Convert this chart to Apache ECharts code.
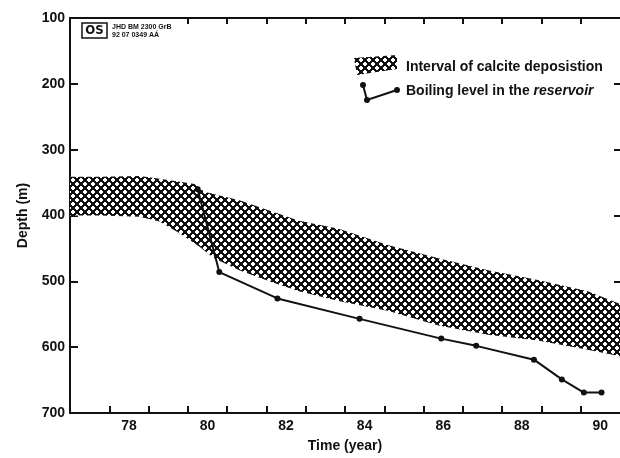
<!DOCTYPE html>
<html>
<head>
<meta charset="utf-8">
<script src="https://cdn.jsdelivr.net/npm/echarts@6/dist/echarts.min.js"></script>
<style>
html, body { margin: 0; padding: 0; background: #fff; }
#chart { width: 620px; height: 458px; }
</style>
</head>
<body>
<div id="chart"></div>
<script>
// boiling level in the reservoir (year, depth m)
var boilYear = [80.25, 80.80, 82.28, 84.37, 86.45, 87.34, 88.81, 89.52, 90.08, 90.53];
var boilDepth = [360, 486, 526, 557, 587, 598, 619, 649, 669, 669];

// interval of calcite deposition: upper and lower edge of the band
var calciteTopYear = [77.0, 77.76, 78.77, 79.28, 80.17, 80.42, 81.31, 82.83, 83.84, 85.11, 86.38, 87.64, 88.91, 90.18, 90.94, 91.2];
var calciteTopDepth = [341, 341, 340, 344, 352, 364, 377, 408, 420, 445, 465, 483, 498, 515, 533, 540];
var calciteBotYear = [77.0, 77.76, 78.77, 79.28, 79.79, 80.29, 80.67, 81.31, 82.07, 82.83, 83.84, 85.11, 86.38, 87.64, 88.91, 90.18, 90.94, 91.2];
var calciteBotDepth = [400, 400, 402, 409, 427, 447, 465, 483, 500, 515, 530, 545, 567, 581, 590, 604, 613, 617];

// axis ticks and labels
var xTickYears = [78, 79, 80, 81, 82, 83, 84, 85, 86, 87, 88, 89, 90];
var xTopTickYears = [80, 81, 82, 83, 84, 85, 86, 87, 88, 89, 90];
var xLabels = ['78', '80', '82', '84', '86', '88', '90'];
var yRightTicks = [200, 300, 400, 500, 600];

var ink = '#111';
var font = 'Liberation Sans';

// crisp cross-hatch tile, drawn pixel by pixel
function makeHatch() {
    var s = 8;
    var c = document.createElement('canvas');
    c.width = s;
    c.height = s;
    var ctx = c.getContext('2d');
    ctx.fillStyle = '#fff';
    ctx.fillRect(0, 0, s, s);
    ctx.fillStyle = ink;
    for (var x = 0; x < s; x++) {
        for (var y = 0; y < s; y++) {
            var a = ((x - y) % s + s) % s;
            var b = ((x + y + 1) % s + s) % s;
            if (a < 3 || b < 3) {
                ctx.fillRect(x, y, 1, 1);
            }
        }
    }
    return c;
}
var hatch = { image: makeHatch(), repeat: 'repeat' };

var boilData = boilYear.map(function(y, i) {
    return [y, boilDepth[i]];
});

var axisLine = { show: true, lineStyle: { color: ink, width: 2 } };
var labelStyle = { color: ink, fontFamily: font, fontWeight: 'bold', fontSize: 14 };

var chart = echarts.init(document.getElementById('chart'));

var option = {
    backgroundColor: '#fff',
    animation: false,
    grid: { left: 70, right: 0, top: 18, bottom: 42 },
    xAxis: [{
            type: 'value',
            min: 77,
            max: 91,
            position: 'bottom',
            axisLine: axisLine,
            axisTick: { show: true, inside: true, length: 7, customValues: xTickYears, lineStyle: { color: ink, width: 2 } },
            axisLabel: Object.assign({
                customValues: xLabels.map(function(l) { return +l + 0.5; }),
                formatter: function(v) { return String(Math.floor(v)); },
                margin: 6
            }, labelStyle),
            splitLine: { show: false },
            name: 'Time (year)',
            nameLocation: 'middle',
            nameGap: 26,
            nameTextStyle: labelStyle
        },
        {
            type: 'value',
            min: 77,
            max: 91,
            position: 'top',
            axisLine: axisLine,
            axisTick: { show: true, inside: true, length: 6, customValues: xTopTickYears, lineStyle: { color: ink, width: 2 } },
            axisLabel: { show: false },
            splitLine: { show: false }
        }
    ],
    yAxis: [{
            type: 'value',
            inverse: true,
            min: 100,
            max: 700,
            interval: 100,
            position: 'left',
            axisLine: axisLine,
            axisTick: { show: true, inside: true, length: 8, lineStyle: { color: ink, width: 2 } },
            axisLabel: Object.assign({ margin: 5 }, labelStyle),
            splitLine: { show: false },
            name: 'Depth (m)',
            nameLocation: 'middle',
            nameGap: 40,
            nameTextStyle: labelStyle
        },
        {
            type: 'value',
            inverse: true,
            min: 100,
            max: 700,
            position: 'right',
            axisLine: { show: false },
            axisTick: { show: true, inside: true, length: 6, customValues: yRightTicks, lineStyle: { color: ink, width: 2 } },
            axisLabel: { show: false },
            splitLine: { show: false }
        }
    ],
    series: [{
            name: 'Interval of calcite deposistion',
            type: 'custom',
            clip: true,
            data: [[calciteTopYear[0], calciteTopDepth[0]]],
            renderItem: function(params, api) {
                var pts = [];
                for (var i = 0; i < calciteTopYear.length; i++) {
                    pts.push(api.coord([calciteTopYear[i], calciteTopDepth[i]]));
                }
                for (var j = calciteBotYear.length - 1; j >= 0; j--) {
                    pts.push(api.coord([calciteBotYear[j], calciteBotDepth[j]]));
                }
                return {
                    type: 'polygon',
                    shape: { points: pts },
                    style: { fill: hatch }
                };
            }
        },
        {
            name: 'Boiling level in the reservoir',
            type: 'line',
            data: boilData,
            symbol: 'circle',
            symbolSize: 6,
            lineStyle: { color: ink, width: 2 },
            itemStyle: { color: ink },
            z: 3
        }
    ],
    graphic: [
        // logo block
        { type: 'rect', shape: { x: 82, y: 23, width: 25, height: 15 }, style: { fill: '#fff', stroke: ink, lineWidth: 1.5 } },
        { type: 'text', x: 94.5, y: 31, style: { text: 'OS', fill: ink, font: 'bold 13px "DejaVu Sans Condensed"', align: 'center', verticalAlign: 'middle' } },
        { type: 'text', x: 112, y: 27, style: { text: 'JHD BM 2300 GrB', fill: ink, font: 'bold 7px "Liberation Sans"', verticalAlign: 'middle' } },
        { type: 'text', x: 112, y: 35, style: { text: '92 07 0349 AÁ', fill: ink, font: 'bold 7px "Liberation Sans"', verticalAlign: 'middle' } },
        // legend
        { type: 'polygon', shape: { points: [[354, 58], [397, 55], [397, 69], [357, 75]] }, style: { fill: hatch } },
        { type: 'text', x: 406, y: 67, style: { text: 'Interval of calcite deposistion', fill: ink, font: 'bold 14px "Liberation Sans"', verticalAlign: 'middle' } },
        { type: 'polyline', shape: { points: [[363, 85], [367, 100], [397, 90]] }, style: { stroke: ink, lineWidth: 2, fill: null } },
        { type: 'circle', shape: { cx: 363, cy: 85, r: 3 }, style: { fill: ink } },
        { type: 'circle', shape: { cx: 367, cy: 100, r: 3 }, style: { fill: ink } },
        { type: 'circle', shape: { cx: 397, cy: 90, r: 3 }, style: { fill: ink } },
        {
            type: 'text',
            x: 406,
            y: 91,
            style: {
                text: '{a|Boiling level in the }{b|reservoir}',
                verticalAlign: 'middle',
                rich: {
                    a: { fill: ink, fontFamily: font, fontWeight: 'bold', fontSize: 14 },
                    b: { fill: ink, fontFamily: font, fontWeight: 'bold', fontStyle: 'italic', fontSize: 14 }
                }
            }
        }
    ]
};

chart.setOption(option);

window.addEventListener('resize', function() {
    chart.resize();
});
</script>
</body>
</html>
